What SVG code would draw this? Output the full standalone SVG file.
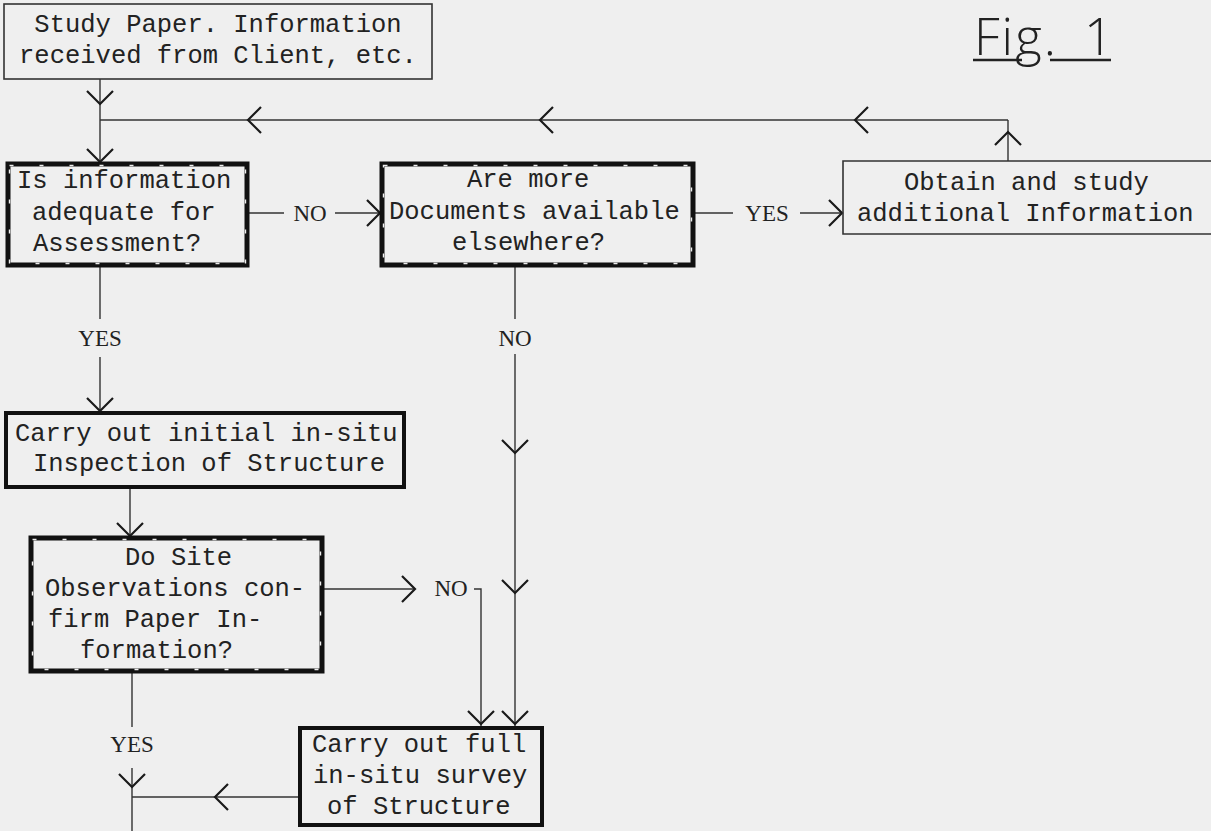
<svg xmlns="http://www.w3.org/2000/svg" xmlns:xlink="http://www.w3.org/1999/xlink" width="1211" height="831" viewBox="0 0 1211 831">
<style>
.bg{fill:#efefef}
.t{font-family:"Liberation Mono","Courier New",monospace;font-size:25.5px;fill:#222}
.lbl{font-family:"Liberation Serif","Times New Roman",serif;font-size:23px;fill:#222}
.fig{font-family:"Open Sans","Liberation Sans",Arial,sans-serif;font-weight:300;font-size:51px;fill:#222}
.thin{fill:none;stroke:#333;stroke-width:1.6}
.thick{fill:none;stroke:#111;stroke-width:4}
.dec{fill:none;stroke:#111;stroke-width:5}
.decw{fill:none;stroke:#efefef;stroke-width:1.4;stroke-dasharray:4 26}
.ln{fill:none;stroke:#333;stroke-width:1.4}
.hd{fill:none;stroke:#1a1a1a;stroke-width:2.2}
</style>
<defs>
<path id="dn" d="M-13,-13 L0,0 L13,-13"/>
</defs>
<rect class="bg" x="0" y="0" width="1211" height="831"/>

<g id="title">
<text class="fig" x="974" y="55"><tspan letter-spacing="2">Fig.</tspan><tspan x="1084">1</tspan></text>
<line x1="973" y1="60" x2="1022" y2="60" stroke="#222" stroke-width="2.5"/>
<line x1="1050" y1="60" x2="1111" y2="60" stroke="#222" stroke-width="2.5"/>
</g>

<g id="connectors">
<line class="ln" x1="100" y1="79" x2="100" y2="163"/>
<line class="ln" x1="100" y1="120" x2="1008" y2="120"/>
<line class="ln" x1="1008" y1="120" x2="1008" y2="161"/>
<line class="ln" x1="247" y1="213" x2="284" y2="213"/>
<line class="ln" x1="335" y1="213" x2="381" y2="213"/>
<line class="ln" x1="693" y1="213" x2="733" y2="213"/>
<line class="ln" x1="800" y1="213" x2="843" y2="213"/>
<line class="ln" x1="100" y1="265" x2="100" y2="319"/>
<line class="ln" x1="100" y1="357" x2="100" y2="412"/>
<line class="ln" x1="515" y1="265" x2="515" y2="319"/>
<line class="ln" x1="515" y1="354" x2="515" y2="727"/>
<line class="ln" x1="130" y1="487" x2="130" y2="537"/>
<line class="ln" x1="322" y1="589" x2="415" y2="589"/>
<polyline class="ln" points="474,589 481,589 481,727"/>
<line class="ln" x1="132" y1="671" x2="132" y2="727"/>
<line class="ln" x1="132" y1="768" x2="132" y2="831"/>
<line class="ln" x1="132" y1="797" x2="299" y2="797"/>

<use class="hd" xlink:href="#dn" transform="translate(100,104)"/>
<use class="hd" xlink:href="#dn" transform="translate(100,162)"/>
<use class="hd" xlink:href="#dn" transform="translate(100,411)"/>
<use class="hd" xlink:href="#dn" transform="translate(130,536)"/>
<use class="hd" xlink:href="#dn" transform="translate(515,453)"/>
<use class="hd" xlink:href="#dn" transform="translate(515,593)"/>
<use class="hd" xlink:href="#dn" transform="translate(515,724)"/>
<use class="hd" xlink:href="#dn" transform="translate(481,724)"/>
<use class="hd" xlink:href="#dn" transform="translate(132,787)"/>
<use class="hd" xlink:href="#dn" transform="translate(248,120) rotate(90)"/>
<use class="hd" xlink:href="#dn" transform="translate(540,120) rotate(90)"/>
<use class="hd" xlink:href="#dn" transform="translate(855,120) rotate(90)"/>
<use class="hd" xlink:href="#dn" transform="translate(215,797) rotate(90)"/>
<use class="hd" xlink:href="#dn" transform="translate(380,213) rotate(-90)"/>
<use class="hd" xlink:href="#dn" transform="translate(842,213) rotate(-90)"/>
<use class="hd" xlink:href="#dn" transform="translate(415,589) rotate(-90)"/>
<use class="hd" xlink:href="#dn" transform="translate(1008,132) rotate(180)"/>

<text class="lbl" x="310" y="221" text-anchor="middle">NO</text>
<text class="lbl" x="767" y="221" text-anchor="middle">YES</text>
<text class="lbl" x="100" y="346" text-anchor="middle">YES</text>
<text class="lbl" x="515" y="346" text-anchor="middle">NO</text>
<text class="lbl" x="451" y="596" text-anchor="middle">NO</text>
<text class="lbl" x="132" y="752" text-anchor="middle">YES</text>
</g>

<g id="n-study">
<rect class="thin" x="4" y="4" width="428" height="75"/>
<text class="t" x="218" y="32" text-anchor="middle">Study Paper. Information</text>
<text class="t" x="218" y="63" text-anchor="middle">received from Client, etc.</text>
</g>

<g id="n-adequate">
<rect class="dec" x="8" y="164" width="239" height="101"/>
<rect class="decw" x="9.5" y="165.5" width="236" height="98"/>
<text class="t" x="17" y="188">Is information</text>
<text class="t" x="32" y="220">adequate for</text>
<text class="t" x="33" y="251">Assessment?</text>
</g>

<g id="n-documents">
<rect class="dec" x="382" y="164" width="311" height="101"/>
<rect class="decw" x="383.5" y="165.5" width="308" height="98"/>
<text class="t" x="467" y="187">Are more</text>
<text class="t" x="389" y="219">Documents available</text>
<text class="t" x="452" y="250">elsewhere?</text>
</g>

<g id="n-obtain">
<polyline class="thin" points="1212,161 843,161 843,234 1212,234"/>
<text class="t" x="904" y="190">Obtain and study</text>
<text class="t" x="857" y="221">additional Information</text>
</g>

<g id="n-initial">
<rect class="thick" x="6" y="413" width="398" height="74"/>
<text class="t" x="15" y="441">Carry out initial in-situ</text>
<text class="t" x="33" y="471">Inspection of Structure</text>
</g>

<g id="n-confirm">
<rect class="dec" x="31" y="538" width="291" height="133"/>
<rect class="decw" x="32.5" y="539.5" width="288" height="130"/>
<text class="t" x="125" y="565">Do Site</text>
<text class="t" x="45" y="596">Observations con-</text>
<text class="t" x="48" y="627">firm Paper In-</text>
<text class="t" x="80" y="658">formation?</text>
</g>

<g id="n-full">
<rect class="thick" x="300" y="728" width="242" height="97"/>
<text class="t" x="312" y="752">Carry out full</text>
<text class="t" x="313" y="783">in-situ survey</text>
<text class="t" x="327" y="814">of Structure</text>
</g>
</svg>
